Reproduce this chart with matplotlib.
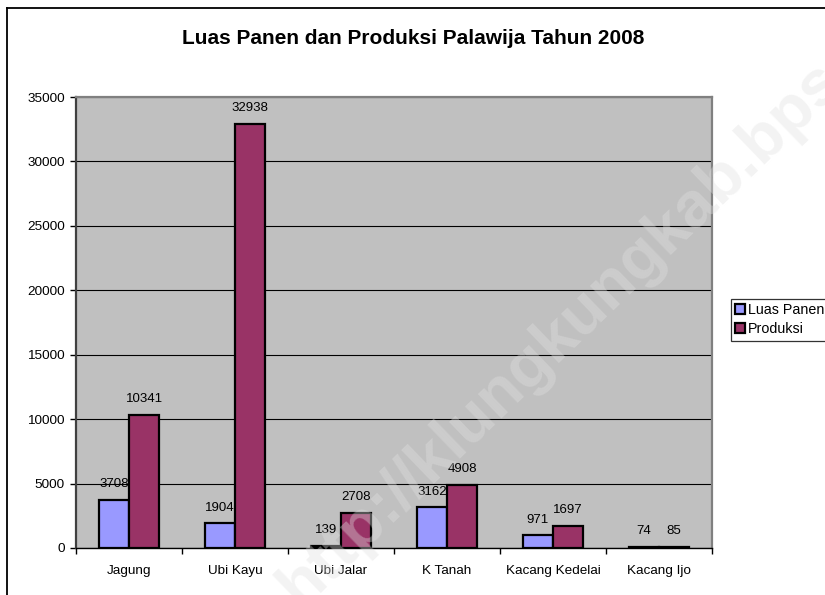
import numpy as np
import matplotlib
matplotlib.use("Agg")
import matplotlib.pyplot as plt
from matplotlib.lines import Line2D

plt.rcParams["font.family"] = ["Liberation Sans", "DejaVu Sans"]

# data
categories = ["Jagung", "Ubi Kayu", "Ubi Jalar", "K Tanah", "Kacang Kedelai", "Kacang Ijo"]
luas_panen = [3708, 1904, 139, 3162, 971, 74]
produksi = [10341, 32938, 2708, 4908, 1697, 85]
series_names = ["Luas Panen", "Produksi"]
y_ticks = [0, 5000, 10000, 15000, 20000, 25000, 30000, 35000]

W, H = 825, 595
fig = plt.figure(figsize=(W / 100, H / 100), dpi=100)

# outer chart frame (cut off at right and bottom in the original)
fig.add_artist(Line2D([7 / W, 1.01], [1 - 8 / H, 1 - 8 / H], color="black", lw=1.3))
fig.add_artist(Line2D([7 / W, 7 / W], [1 - 8 / H, -0.01], color="black", lw=1.3))

ax = fig.add_axes([76 / W, (H - 548) / H, (712 - 76) / W, (548 - 97) / H])
ax.set_facecolor("#C0C0C0")

x = np.arange(len(categories))
bw = 0.285
b1 = ax.bar(x - bw / 2, luas_panen, bw, color="#9999FF", edgecolor="black", lw=1.6,
            label=series_names[0], zorder=3)
b2 = ax.bar(x + bw / 2, produksi, bw, color="#993366", edgecolor="black", lw=1.6,
            label=series_names[1], zorder=3)

for bars, vals in ((b1, luas_panen), (b2, produksi)):
    for r, v in zip(bars, vals):
        ax.annotate(str(v), (r.get_x() + r.get_width() / 2, v), xytext=(0, 7),
                    textcoords="offset points", ha="center", va="bottom",
                    fontsize=9.5, zorder=4)

ax.set_xlim(-0.5, len(categories) - 0.5)
ax.set_ylim(0, 35000)
ax.set_yticks(y_ticks)
ax.set_yticklabels([str(t) for t in y_ticks], fontsize=9.7)
ax.yaxis.grid(True, color="black", lw=0.8, zorder=1)
ax.set_axisbelow(True)

ax.set_xticks(x)
ax.set_xticklabels(categories, fontsize=9.7)
ax.set_xticks(np.arange(len(categories) + 1) - 0.5, minor=True)
ax.tick_params(axis="x", which="major", length=0, pad=12)
ax.tick_params(axis="x", which="minor", length=4, width=1, direction="out")
ax.tick_params(axis="y", length=4, width=1, direction="out", pad=4)

for s in ("top", "right"):
    ax.spines[s].set_color("#808080")
    ax.spines[s].set_linewidth(1.6)
ax.spines["left"].set_color("#404040")
ax.spines["left"].set_linewidth(1.6)
ax.spines["bottom"].set_color("black")
ax.spines["bottom"].set_linewidth(1.0)

fig.text(413 / W, 1 - 39 / H, "Luas Panen dan Produksi Palawija Tahun 2008",
         ha="center", va="center", fontsize=15, fontweight="bold")

leg = ax.legend(loc="upper left", bbox_to_anchor=(731 / W, 1 - 299 / H),
                bbox_transform=fig.transFigure, fontsize=10.3, frameon=True,
                fancybox=False, edgecolor="black", handlelength=0.7,
                handleheight=0.7, handletextpad=0.2, borderpad=0.3,
                labelspacing=0.35, borderaxespad=0)
leg.get_frame().set_linewidth(0.9)

# watermark
fig.text(300 / W, -14 / H, "http://klungkungkab.bps.go.id", rotation=44,
         rotation_mode="anchor", ha="left", va="baseline", fontsize=47,
         fontweight="bold", color="#e0e0e0", alpha=0.38, zorder=10)

fig.savefig("out.png", dpi=100)
